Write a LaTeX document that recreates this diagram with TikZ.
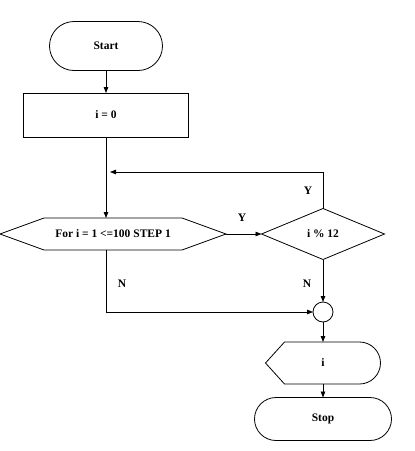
\documentclass[tikz,border=0pt]{standalone}
\usepackage{fontspec}
\setmainfont{Liberation Serif}
\usepackage{tikz}
\usetikzlibrary{shapes.geometric, shapes.misc, arrows.meta, positioning}

\begin{document}
\begin{tikzpicture}[
    x=1pt, y=-1pt, line width=0.8pt,
    every node/.style={font=\fontsize{11.5}{13}\selectfont\bfseries, inner sep=0pt, outer sep=0pt},
    terminal/.style={rounded rectangle, draw},
    process/.style={rectangle, draw, minimum width=165pt, minimum height=44pt},
    loopbox/.style={minimum width=226pt, minimum height=32pt},
    decision/.style={diamond, draw, minimum width=123pt, minimum height=51pt},
    joint/.style={circle, draw, minimum size=20pt},
    showbox/.style={minimum width=115pt, minimum height=42pt},
    arrow/.style={-{Triangle[length=6pt, width=4.5pt]}},
    yn/.style={font=\fontsize{11.5}{13}\selectfont\bfseries}
]

\useasboundingbox (0,0) rectangle (415,451);

% Flow nodes
\node[terminal, minimum width=113pt, minimum height=49pt] (start) at (106,46) {Start};
\node[process] (init) at (106,115) {i = 0};
\node[loopbox] (loop) at (113,234) {For i = 1 <=100 STEP 1};
\node[decision] (check) at (323,234) {i \% 12};
\node[joint] (join) at (323,312) {};
\node[showbox] (show) at (323,363) {i};
\node[terminal, minimum width=137pt, minimum height=43pt] (stop) at (323,419) {Stop};
\coordinate (back) at (110,172);

% Loop and display outlines
\draw ([xshift=44pt]loop.north west) -- (loop.west) -- ([xshift=44pt]loop.south west)
    -- ([xshift=-44pt]loop.south east) -- (loop.east) -- ([xshift=-44pt]loop.north east) -- cycle;
\draw ([xshift=19pt]show.north west) -- (show.west) -- ([xshift=19pt]show.south west)
    -- ([xshift=-21pt]show.south east) arc[start angle=-90, end angle=90, radius=21pt] -- cycle;

% Labels
\node[yn] (y1) at (242,218) {Y};
\node[yn] (y2) at (308,191) {Y};
\node[yn] (n1) at (307,284) {N};
\node[yn] (n2) at (122,284) {N};

% Connecting lines
\draw[arrow] (start) -- (init);
\draw[arrow] (init.south) -- (init.south |- loop.north);
\draw[arrow] (loop.east) -- (check.west);
\draw[arrow] (check.north) |- (back);
\draw[arrow] (check.south) -- (join.north);
\draw[arrow] (init.south |- loop.south) |- (join.west);
\draw[arrow] (join.south) -- (show.north);
\draw[arrow] (show.south) -- (stop.north);

\end{tikzpicture}
\end{document}
